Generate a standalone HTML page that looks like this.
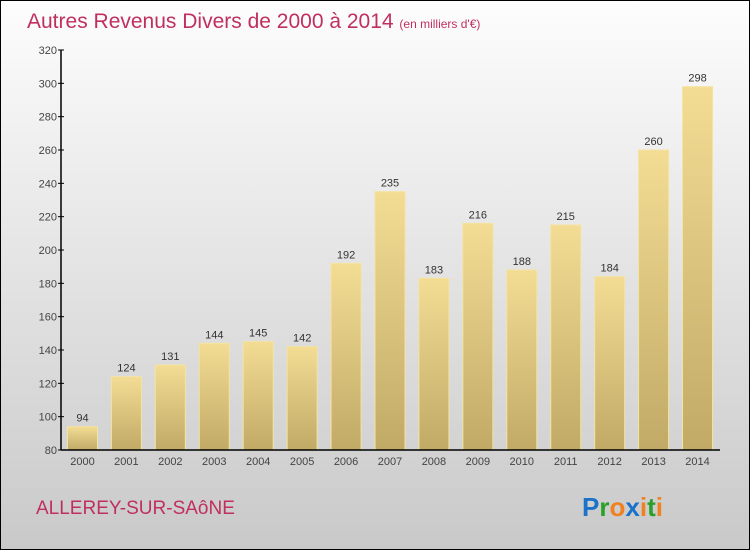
<!DOCTYPE html>
<html><head><meta charset="utf-8"><style>
body{margin:0}
#c{width:750px;height:550px;position:relative;overflow:hidden;font-family:"Liberation Sans",sans-serif}
</style></head><body>
<div id="c">
<svg width="750" height="550" xmlns="http://www.w3.org/2000/svg" id="svg">
<defs>
<linearGradient id="bg" x1="0" y1="0" x2="0" y2="1"><stop offset="0" stop-color="#fdfdfd"/><stop offset="1" stop-color="#c9c9c9"/></linearGradient>
<linearGradient id="bar" x1="0" y1="0" x2="0" y2="1"><stop offset="0" stop-color="#f3dc94"/><stop offset="1" stop-color="#c1aa66"/></linearGradient>
</defs>
<rect x="0.5" y="0.5" width="749" height="549" fill="url(#bg)" stroke="#000"/>
<text x="27" y="28" font-size="21" fill="#c0305f">Autres Revenus Divers de 2000 à 2014 <tspan font-size="12">(en milliers d'€)</tspan></text>
<g id="plot"></g>
<text x="36" y="514" font-size="19" fill="#c0305f">ALLEREY-SUR-SAôNE</text>
<text x="582" y="516" font-size="26" font-weight="bold"><tspan fill="#1a73c9">P</tspan><tspan fill="#2aa02a">r</tspan><tspan fill="#f08020">o</tspan><tspan fill="#1a73c9">x</tspan><tspan fill="#f08020">i</tspan><tspan fill="#2aa02a">t</tspan><tspan fill="#f08020">i</tspan></text>
</svg>
</div>
<script>
const categories=["2000","2001","2002","2003","2004","2005","2006","2007","2008","2009","2010","2011","2012","2013","2014"];
const values=[94,124,131,144,145,142,192,235,183,216,188,215,184,260,298];
const yTicks=[80,100,120,140,160,180,200,220,240,260,280,300,320];
const NS="http://www.w3.org/2000/svg";
const g=document.getElementById("plot");
const x0=61,x1=720,yB=450,yT=50,vmin=80,vmax=320;
const y=v=>yB-(v-vmin)*(yB-yT)/(vmax-vmin);
const step=(x1-x0)/categories.length;
const xc=i=>x0+step*(i+0.5)-0.5;
function el(t,a){const e=document.createElementNS(NS,t);for(const k in a)e.setAttribute(k,a[k]);g.appendChild(e);return e;}
yTicks.forEach(v=>{
 const t=el("line",{x1:x0-3,x2:x0+3,y1:y(v),y2:y(v),stroke:"#000"});
 
 
 const l=el("text",{x:x0-4,y:y(v)+4,"font-size":11,fill:"#444","text-anchor":"end"});l.textContent=v;
 
 
});
categories.forEach((c,i)=>{
 const v=values[i];
 const b=el("rect",{x:xc(i)-15,y:y(v),width:30,height:yB-y(v),fill:"url(#bar)",stroke:"#f5e3a0","stroke-width":1});
 
 
 const vl=el("text",{x:xc(i),y:y(v)-5,"font-size":11,fill:"#333","text-anchor":"middle"});vl.textContent=v;
 
 
 const xl=el("text",{x:xc(i),y:yB+15,"font-size":11,fill:"#444","text-anchor":"middle"});xl.textContent=c;
 
 
});
const ax=el("line",{x1:x0,x2:x0,y1:yT,y2:yB,stroke:"#000","stroke-width":1.5});


const bx=el("line",{x1:x0,x2:x1,y1:yB,y2:yB,stroke:"#000","stroke-width":1.5});


</script>
</body></html>
